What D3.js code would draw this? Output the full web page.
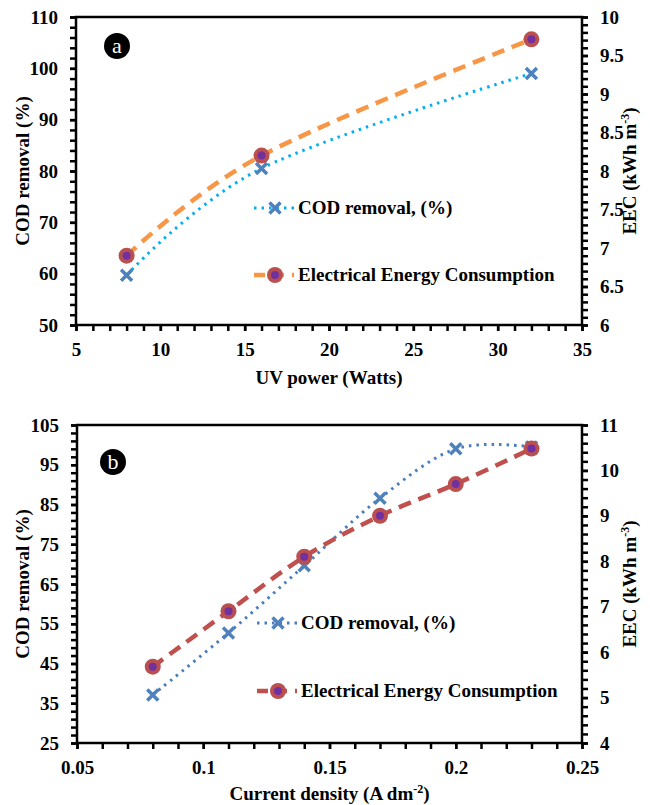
<!DOCTYPE html>
<html><head><meta charset="utf-8">
<script src="https://cdn.jsdelivr.net/npm/d3@7"></script>
</head><body style="margin:0"><svg id="c" width="650" height="805"></svg>
<script>
// ---- Data (a) ----
const uvPower = [8, 16, 32];
const codA = [59.7, 80.5, 99.0];
const eecA = [6.9, 8.2, 9.71];
const xTicksA = [5, 10, 15, 20, 25, 30, 35];
const yLeftTicksA = [50, 60, 70, 80, 90, 100, 110];
const yRightTicksA = [6, 6.5, 7, 7.5, 8, 8.5, 9, 9.5, 10];
// ---- Data (b) ----
const currentDensity = [0.08, 0.11, 0.14, 0.17, 0.20, 0.23];
const codB = [37.1, 52.7, 69.6, 86.6, 99.0, 99.5];
const eecB = [5.68, 6.9, 8.1, 9.0, 9.7, 10.48];
const xTicksB = [0.05, 0.1, 0.15, 0.2, 0.25];
const yLeftTicksB = [25, 35, 45, 55, 65, 75, 85, 95, 105];
const yRightTicksB = [4, 5, 6, 7, 8, 9, 10, 11];

const FONT = "Liberation Serif";
const svg = d3.select("#c");

function txt(sel, size, weight) {
  return sel.attr("font-family", FONT).attr("font-size", size).attr("font-weight", weight || "bold")
    .style("font-family", FONT).style("font-size", size + "px").style("font-weight", weight || "bold");
}

function panel(cfg) {
  const g = svg.append("g");
  const x = d3.scaleLinear().domain(cfg.xDom).range([cfg.x0, cfg.x1]);
  const yl = d3.scaleLinear().domain(cfg.ylDom).range([cfg.y1, cfg.y0]);
  const yr = d3.scaleLinear().domain(cfg.yrDom).range([cfg.y1, cfg.y0]);

  const minor = (step, dom) => d3.range(dom[0], dom[1] + step / 2, step);
  g.append("g").attr("transform", `translate(0,${cfg.y1})`)
    .call(d3.axisBottom(x).tickValues(minor(cfg.xMinor, cfg.xDom)).tickSize(6).tickFormat(""))
    .call(a => a.select(".domain").remove()).selectAll("line").attr("stroke-width", 2.5);
  g.append("g").attr("transform", `translate(${cfg.x0},0)`)
    .call(d3.axisLeft(yl).tickValues(minor(cfg.ylMinor, cfg.ylDom)).tickSize(6).tickFormat(""))
    .call(a => a.select(".domain").remove()).selectAll("line").attr("stroke-width", 2.5);
  g.append("g").attr("transform", `translate(${cfg.x1},0)`)
    .call(d3.axisRight(yr).tickValues(minor(cfg.yrMinor, cfg.yrDom)).tickSize(6).tickFormat(""))
    .call(a => a.select(".domain").remove()).selectAll("line").attr("stroke-width", 2.5);

  const ax = g.append("g").attr("transform", `translate(0,${cfg.y1})`)
    .call(d3.axisBottom(x).tickValues(cfg.xTicks).tickSize(6).tickPadding(11).tickFormat(d => String(d)));
  const al = g.append("g").attr("transform", `translate(${cfg.x0},0)`)
    .call(d3.axisLeft(yl).tickValues(cfg.ylTicks).tickSize(6).tickPadding(12).tickFormat(d => String(d)));
  const ar = g.append("g").attr("transform", `translate(${cfg.x1},0)`)
    .call(d3.axisRight(yr).tickValues(cfg.yrTicks).tickSize(6).tickPadding(12).tickFormat(d => String(d)));
  [ax, al, ar].forEach(a => {
    a.attr("font-family", null).attr("font-size", null);
    a.select(".domain").remove();
    a.selectAll("line").attr("stroke-width", 2.5);
    txt(a.selectAll("text"), 19).attr("fill", "#000");
  });
  ax.selectAll("text").attr("dy", "0.75em");

  g.append("rect").attr("x", cfg.x0).attr("y", cfg.y0)
    .attr("width", cfg.x1 - cfg.x0).attr("height", cfg.y1 - cfg.y0)
    .attr("fill", "none").attr("stroke", "#000").attr("stroke-width", 2.5);

  const curve = d3.curveCardinal.tension(0);
  const codPts = cfg.xs.map((d, i) => [x(d), yl(cfg.cod[i])]);
  const eecPts = cfg.xs.map((d, i) => [x(d), yr(cfg.eec[i])]);
  g.append("path").attr("d", d3.line().curve(curve)(codPts))
    .attr("fill", "none").attr("stroke", cfg.codColor).attr("stroke-width", 3)
    .attr("stroke-dasharray", "2.5,5");
  g.append("path").attr("d", d3.line().curve(curve)(eecPts))
    .attr("fill", "none").attr("stroke", cfg.eecColor).attr("stroke-width", 4.5)
    .attr("stroke-dasharray", "13,8");

  const xMark = (sel, cx, cy) => {
    const s = 5.5;
    sel.append("path").attr("d", `M${cx - s},${cy - s}L${cx + s},${cy + s}M${cx - s},${cy + s}L${cx + s},${cy - s}`)
      .attr("stroke", "#4F81BD").attr("stroke-width", 3.5).attr("fill", "none");
  };
  const cMark = (sel, cx, cy) => {
    sel.append("circle").attr("cx", cx).attr("cy", cy).attr("r", 8).attr("fill", "#B9504F");
    sel.append("circle").attr("cx", cx).attr("cy", cy).attr("r", 4).attr("fill", "#7030A0");
  };
  codPts.forEach(p => xMark(g, p[0], p[1]));
  eecPts.forEach(p => cMark(g, p[0], p[1]));

  const lg = g.append("g");
  const lx0 = cfg.legX, lx1 = cfg.legX + 40, lm = cfg.legX + 21;
  lg.append("line").attr("x1", lx0).attr("x2", lx1).attr("y1", cfg.legY1).attr("y2", cfg.legY1)
    .attr("stroke", cfg.codColor).attr("stroke-width", 3).attr("stroke-dasharray", "2.5,5");
  xMark(lg, lm, cfg.legY1);
  txt(lg.append("text"), 19).attr("x", lx1 + 4).attr("y", cfg.legY1 + 6).text("COD removal, (%)");
  lg.append("line").attr("x1", lx0).attr("x2", lx1).attr("y1", cfg.legY2).attr("y2", cfg.legY2)
    .attr("stroke", cfg.eecColor).attr("stroke-width", 4.5).attr("stroke-dasharray", "11,8");
  cMark(lg, lm, cfg.legY2);
  txt(lg.append("text"), 19).attr("x", lx1 + 4).attr("y", cfg.legY2 + 6).text("Electrical Energy Consumption");

  g.append("circle").attr("cx", cfg.lab[0]).attr("cy", cfg.lab[1]).attr("r", 13).attr("fill", "#000");
  txt(g.append("text"), 22, "normal").attr("x", cfg.lab[0]).attr("y", cfg.lab[1] + 6.5).attr("text-anchor", "middle")
    .attr("fill", "#fff").text(cfg.letter);

  const ym = (cfg.y0 + cfg.y1) / 2;
  txt(g.append("text"), 19).attr("transform", `translate(29,${ym}) rotate(-90)`).attr("text-anchor", "middle")
    .text("COD removal (%)");
  const rt = txt(g.append("text"), 19).attr("transform", `translate(636,${ym}) rotate(-90)`).attr("text-anchor", "middle");
  rt.append("tspan").text("EEC (kWh m");
  rt.append("tspan").attr("font-size", 12).style("font-size", "12px").attr("dy", -7).text("-3");
  rt.append("tspan").attr("dy", 7).text(")");
  const xt = txt(g.append("text"), 19).attr("x", (cfg.x0 + cfg.x1) / 2).attr("y", cfg.xTitleY).attr("text-anchor", "middle");
  cfg.xTitle(xt);
}

panel({
  x0: 76, x1: 582, y0: 17, y1: 325,
  xDom: [5, 35], ylDom: [50, 110], yrDom: [6, 10],
  xMinor: 1, ylMinor: 2, yrMinor: 0.1,
  xTicks: xTicksA, ylTicks: yLeftTicksA, yrTicks: yRightTicksA,
  xs: uvPower, cod: codA, eec: eecA,
  codColor: "#00B0F0", eecColor: "#F79646",
  legX: 254, legY1: 208, legY2: 275,
  lab: [117, 46], letter: "a", xTitleY: 384,
  xTitle: t => t.text("UV power (Watts)")
});
panel({
  x0: 77, x1: 582, y0: 425, y1: 743,
  xDom: [0.05, 0.25], ylDom: [25, 105], yrDom: [4, 11],
  xMinor: 0.01, ylMinor: 2, yrMinor: 0.2,
  xTicks: xTicksB, ylTicks: yLeftTicksB, yrTicks: yRightTicksB,
  xs: currentDensity, cod: codB, eec: eecB,
  codColor: "#4A7EBB", eecColor: "#C0504D",
  legX: 257, legY1: 623, legY2: 691,
  lab: [113, 462], letter: "b", xTitleY: 800,
  xTitle: t => { t.append("tspan").text("Current density (A dm"); t.append("tspan").attr("font-size", 12).style("font-size", "12px").attr("dy", -7).text("-2"); t.append("tspan").attr("dy", 7).text(")"); }
});
</script></body></html>
